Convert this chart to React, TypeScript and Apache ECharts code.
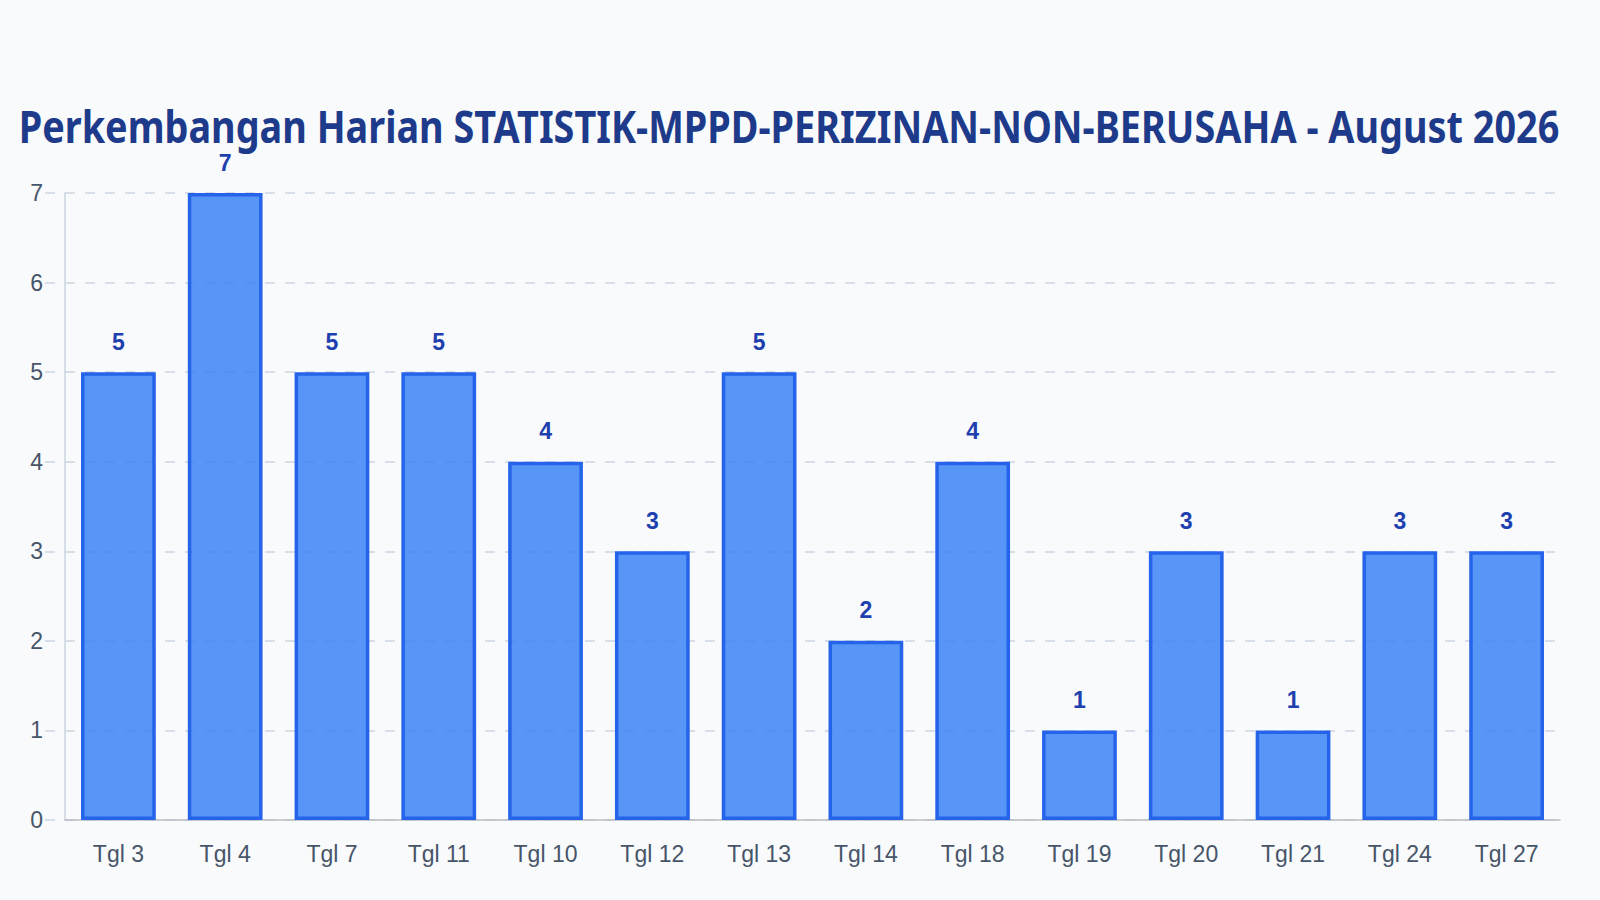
import React, { useEffect, useRef } from 'react';
import * as echarts from 'echarts';

const categories = ['Tgl 3', 'Tgl 4', 'Tgl 7', 'Tgl 11', 'Tgl 10', 'Tgl 12', 'Tgl 13', 'Tgl 14', 'Tgl 18', 'Tgl 19', 'Tgl 20', 'Tgl 21', 'Tgl 24', 'Tgl 27'];
const jumlah = [5, 7, 5, 5, 4, 3, 5, 2, 4, 1, 3, 1, 3, 3];
const yTicks = { min: 0, max: 7, interval: 1 };
const judul = 'Perkembangan Harian STATISTIK-MPPD-PERIZINAN-NON-BERUSAHA - August 2026';

const App: React.FC = () => {
  const chartRef = useRef<HTMLDivElement | null>(null);

  useEffect(() => {
    const chart = echarts.init(chartRef.current!, undefined, { renderer: 'svg' });

    const option = {
      animation: false,
      backgroundColor: '#f8fafc',
      // title squeezed horizontally like the original (canvas maxWidth)
      graphic: [
        {
          type: 'text',
          x: 789,
          y: 126,
          scaleX: 0.86,
          style: {
            text: judul,
            textAlign: 'center',
            textVerticalAlign: 'middle',
            fontFamily: "'Noto Sans', sans-serif",
            fontWeight: 'bold',
            fontSize: 44,
            fill: '#1e3a8a',
          },
        },
      ],
      grid: { left: 65, right: 40, top: 193, bottom: 80 },
      xAxis: {
        type: 'category',
        data: categories,
        axisLine: { lineStyle: { color: '#b9bcc2', width: 1.5 } },
        axisTick: { show: false },
        axisLabel: {
          margin: 22,
          fontFamily: "'Liberation Sans', Arial, sans-serif",
          fontSize: 23,
          color: '#475569',
        },
      },
      yAxis: {
        type: 'value',
        min: yTicks.min,
        max: yTicks.max,
        interval: yTicks.interval,
        axisLine: { show: true, lineStyle: { color: '#cbd5e1', width: 1.5 } },
        axisTick: {
          show: true,
          length: 20,
          lineStyle: { color: '#cbd5e1', width: 1.5, type: [10, 10], dashOffset: 10 },
        },
        axisLabel: {
          margin: 22,
          fontFamily: "'Liberation Sans', Arial, sans-serif",
          fontSize: 23,
          color: '#475569',
        },
        splitLine: { lineStyle: { color: '#cbd5e1', width: 1.5, type: [10, 10] } },
      },
      series: [
        {
          type: 'bar',
          data: jumlah,
          barWidth: '70%',
          itemStyle: {
            color: 'rgba(59,130,246,0.85)',
            borderColor: '#2563eb',
            borderWidth: 3.5,
          },
          label: {
            show: true,
            position: 'top',
            distance: 19,
            fontFamily: "'Liberation Sans', Arial, sans-serif",
            fontWeight: 'bold',
            fontSize: 23,
            color: '#1e40af',
          },
        },
      ],
    };

    chart.setOption(option);

    return () => {
      chart.dispose();
    };
  }, []);

  return (
    <div
      ref={chartRef}
      style={{ position: 'absolute', left: 0, top: 0, width: '1600px', height: '900px' }}
    />
  );
};

export default App;
